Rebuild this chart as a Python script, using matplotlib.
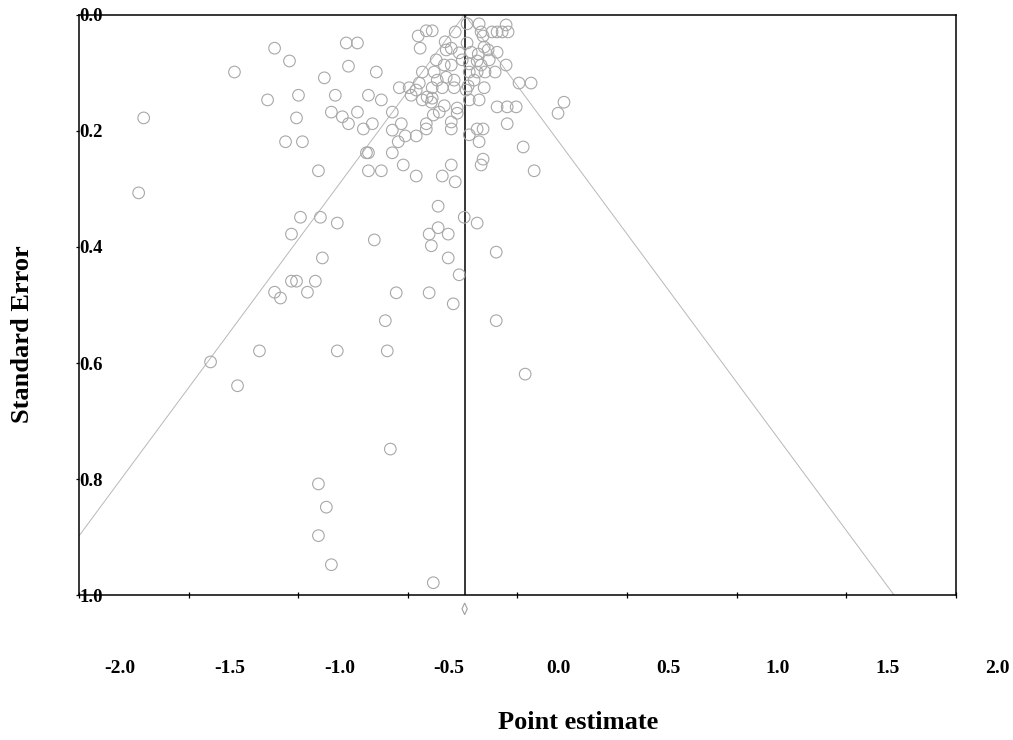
import numpy as np
import matplotlib
matplotlib.use("Agg")
import matplotlib.pyplot as plt
from matplotlib.transforms import ScaledTranslation
from matplotlib.patches import Polygon

# ---- data ----
point_estimate = [
    -1.108, -1.040, -0.781, -0.730, -0.771, -0.644, -1.291, -0.881, -1.140, -0.999,
    -0.831, -0.680, -0.621, -1.705, -1.008, -0.849, -0.799, -0.771, -0.730, -0.703,
    -0.662, -1.058, -0.981, -0.689, -0.680, -0.908, -0.680, -0.621, -1.728, -0.990,
    -0.899, -0.822, -1.031, -0.653, -0.890, -1.031, -1.008, -0.922, -1.108, -1.081,
    -0.958, -0.603, -0.571, -0.571, -0.571, -0.362, -0.243, -0.184, -0.362, -0.403,
    -0.316, -0.393, -0.097, -0.316, -0.266, -0.553, -0.403, -0.293, -0.097, -0.822,
    -0.594, 0.035, -0.580, -0.908, -0.872, -0.908, -0.849, -0.384, -1.177, -1.400,
    -1.277, -0.530, -0.512, -0.462, -0.544, -0.416, -0.416, -0.393, -0.384, -0.357,
    -0.334, -0.302, -0.302, -0.275, -0.220, -0.521, -0.462, -0.343, -0.302, -0.284,
    -0.093, -0.047, -0.006, 0.212, 0.185, -0.047, -0.184, -0.157, -0.175, 0.026,
    -0.157, -0.166, 0.076, -0.453, -0.416, -0.389, -0.444, -0.330, -0.284, -0.325,
    -0.302, -0.266, -0.371, -0.334, -0.302, -0.252, -0.434, -0.380, -0.366, -0.325,
    -0.289, -0.539, -0.494, -0.462, -0.389, -0.343, -0.289, -0.448, -0.485, -0.412,
    -0.389, -0.434, -0.275, -0.230, -0.175, -0.052, -0.166, -0.116, -0.093, -0.070,
    -0.043, -0.157, -0.230, -0.152, -0.211, -0.179, -0.134, -0.093, -0.220, -0.184,
    -0.166, -0.129, -0.052, -0.220, -0.184, -0.148, -0.102, -0.198, -0.225, -0.152,
    0.007, 0.062, -0.234, -0.220, -0.175,
]
standard_error = [
    0.058, 0.080, 0.049, 0.049, 0.089, 0.099, 0.099, 0.109, 0.147, 0.139,
    0.139, 0.139, 0.147, 0.178, 0.178, 0.168, 0.176, 0.188, 0.168, 0.197,
    0.188, 0.219, 0.219, 0.238, 0.238, 0.269, 0.269, 0.269, 0.307, 0.349,
    0.349, 0.359, 0.378, 0.388, 0.419, 0.459, 0.459, 0.459, 0.478, 0.488,
    0.478, 0.527, 0.168, 0.199, 0.238, 0.330, 0.349, 0.359, 0.367, 0.378,
    0.378, 0.398, 0.409, 0.419, 0.448, 0.479, 0.479, 0.498, 0.527, 0.579,
    0.579, 0.619, 0.748, 0.808, 0.848, 0.897, 0.947, 0.978, 0.579, 0.598,
    0.639, 0.188, 0.209, 0.209, 0.219, 0.197, 0.188, 0.151, 0.173, 0.168,
    0.157, 0.185, 0.197, 0.170, 0.207, 0.259, 0.278, 0.278, 0.259, 0.288,
    0.159, 0.159, 0.159, 0.151, 0.170, 0.188, 0.197, 0.197, 0.219, 0.228,
    0.249, 0.259, 0.269, 0.037, 0.028, 0.028, 0.058, 0.047, 0.030, 0.061,
    0.058, 0.066, 0.078, 0.087, 0.087, 0.078, 0.099, 0.099, 0.113, 0.108,
    0.113, 0.126, 0.126, 0.130, 0.126, 0.126, 0.126, 0.118, 0.139, 0.142,
    0.144, 0.147, 0.161, 0.016, 0.016, 0.018, 0.030, 0.030, 0.030, 0.030,
    0.030, 0.037, 0.049, 0.056, 0.065, 0.068, 0.061, 0.065, 0.085, 0.080,
    0.087, 0.078, 0.087, 0.099, 0.099, 0.099, 0.099, 0.113, 0.123, 0.126,
    0.118, 0.118, 0.130, 0.147, 0.147,
]
summary_estimate = -0.241
summary_ci = [-0.253, -0.229]

x_ticks = [-2.0, -1.5, -1.0, -0.5, 0.0, 0.5, 1.0, 1.5, 2.0]
x_tick_labels = ["-2.0", "-1.5", "-1.0", "-0.5", "0.0", "0.5", "1.0", "1.5", "2.0"]
y_ticks = [0.0, 0.2, 0.4, 0.6, 0.8, 1.0]
y_tick_labels = ["0.0", "0.2", "0.4", "0.6", "0.8", "1.0"]
x_title = "Point estimate"
y_title = "Standard Error"

# ---- figure ----
plt.rcParams['font.family'] = ['Liberation Serif', 'DejaVu Serif']
plt.rcParams['font.weight'] = 'bold'

fig = plt.figure(figsize=(10.13, 7.40), dpi=100)
ax = fig.add_axes([0.0780, 0.1953, 0.8657, 0.7851])
ax.set_xlim(-2.0, 2.0)
ax.set_ylim(1.0, 0.0)

# funnel (pseudo 95% limits)
se_line = np.array([0.0, 1.0])
ax.plot(summary_estimate - 1.96 * se_line, se_line, color='#b8b8b8', lw=0.7, zorder=1)
ax.plot(summary_estimate + 1.96 * se_line, se_line, color='#b8b8b8', lw=0.7, zorder=1)
ax.axvline(summary_estimate, color='black', lw=1.1, zorder=2)

# studies
ax.scatter(point_estimate, standard_error, s=70, facecolors='none',
           edgecolors='#a8a8a8', linewidths=0.8, zorder=3)

# summary diamond below axis
dy_mid, dy_half = 1.023, 0.010
diamond = Polygon([(summary_ci[0], dy_mid), (summary_estimate, dy_mid - dy_half),
                   (summary_ci[1], dy_mid), (summary_estimate, dy_mid + dy_half)],
                  closed=True, fill=False, edgecolor='#a0a0a0', lw=0.8, clip_on=False)
ax.add_patch(diamond)

for sp in ax.spines.values():
    sp.set_linewidth(1.1)

# x ticks: marks at tick positions, labels drawn shifted right (as in reference)
ax.set_xticks(x_ticks)
ax.set_xticklabels(x_tick_labels, fontsize=14, fontweight='bold')
ax.tick_params(axis='x', direction='inout', length=4.3, width=0.9, pad=44)
offset = ScaledTranslation(0.41, 0.0, fig.dpi_scale_trans)
for lab in ax.get_xticklabels():
    lab.set_transform(lab.get_transform() + offset)

# y ticks: labels drawn inside the axis, left-aligned at the spine
ax.set_yticks(y_ticks)
ax.set_yticklabels(y_tick_labels, fontsize=13.5, fontweight='bold', ha='left')
ax.tick_params(axis='y', direction='out', length=2.2, width=0.9, pad=-2.2)

ax.set_xlabel(x_title, fontsize=19, fontweight='bold', va='center')
ax.xaxis.set_label_coords(0.569, -0.219)
ax.set_ylabel(y_title, fontsize=19, fontweight='bold', va='center')
ax.yaxis.set_label_coords(-0.064, 0.45)

fig.savefig("out.png", dpi=100)
